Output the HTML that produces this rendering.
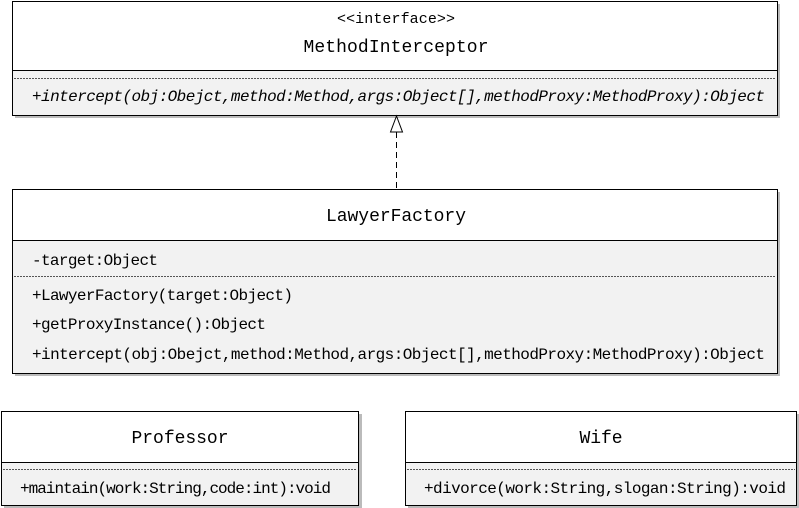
<!DOCTYPE html>
<html><head><style>body{margin:0;background:#fff}svg{display:block}text{font-family:"Liberation Mono",monospace;fill:#000}</style></head><body>
<svg width="799" height="508" xmlns="http://www.w3.org/2000/svg">
<g fill="#bbb"><rect x="15" y="4" width="765" height="114"/><rect x="15" y="192" width="765" height="184"/><rect x="4" y="414" width="358" height="95"/><rect x="408" y="414" width="392" height="95"/></g>
<g stroke="#000" stroke-width="1">
<rect x="12.5" y="1.5" width="765" height="114" fill="#f2f2f2"/>
<rect x="12.5" y="1.5" width="765" height="69" fill="#fff"/>
<line x1="14" y1="78.5" x2="776" y2="78.5" stroke-dasharray="2,1" stroke="#555"/>
<rect x="12.5" y="189.5" width="765" height="184" fill="#f2f2f2"/>
<rect x="12.5" y="189.5" width="765" height="51" fill="#fff"/>
<line x1="14" y1="276.5" x2="776" y2="276.5" stroke-dasharray="2,1" stroke="#555"/>
<rect x="1.5" y="411.5" width="357" height="94" fill="#f2f2f2"/>
<rect x="1.5" y="411.5" width="357" height="51" fill="#fff"/>
<line x1="3" y1="469.5" x2="357" y2="469.5" stroke-dasharray="2,1" stroke="#555"/>
<rect x="405.5" y="411.5" width="391" height="94" fill="#f2f2f2"/>
<rect x="405.5" y="411.5" width="391" height="51" fill="#fff"/>
<line x1="407" y1="469.5" x2="795" y2="469.5" stroke-dasharray="2,1" stroke="#555"/>
<line x1="396.5" y1="132" x2="396.5" y2="189" stroke-dasharray="6,4"/>
<polygon points="396.5,116 390.5,132 402.5,132" fill="#fff"/>
</g>
<text x="396" y="23" font-size="15" text-anchor="middle" textLength="118">&lt;&lt;interface&gt;&gt;</text>
<text x="396" y="52" font-size="18" text-anchor="middle" textLength="185">MethodInterceptor</text>
<text x="32" y="101" font-size="16" font-style="italic" textLength="733">+intercept(obj:Obejct,method:Method,args:Object[],methodProxy:MethodProxy):Object</text>
<text x="396" y="221" font-size="18" text-anchor="middle" textLength="140">LawyerFactory</text>
<text x="32" y="265" font-size="16" textLength="126">-target:Object</text>
<text x="32" y="300" font-size="16" textLength="261">+LawyerFactory(target:Object)</text>
<text x="32" y="329" font-size="16" textLength="234">+getProxyInstance():Object</text>
<text x="32" y="359" font-size="16" textLength="733">+intercept(obj:Obejct,method:Method,args:Object[],methodProxy:MethodProxy):Object</text>
<text x="180" y="443" font-size="18" text-anchor="middle" textLength="97">Professor</text>
<text x="20" y="493" font-size="16" textLength="311">+maintain(work:String,code:int):void</text>
<text x="601" y="443" font-size="18" text-anchor="middle" textLength="43">Wife</text>
<text x="424" y="493" font-size="16" textLength="362">+divorce(work:String,slogan:String):void</text>
</svg>
</body></html>
